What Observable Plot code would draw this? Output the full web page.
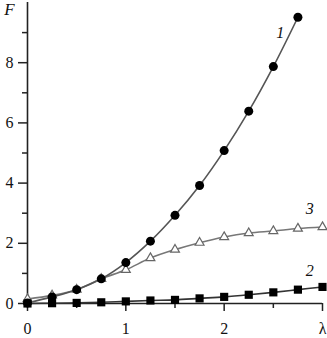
<!DOCTYPE html>
<html>
<head>
<meta charset="utf-8">
<script src="https://cdn.jsdelivr.net/npm/d3@7"></script>
<script src="https://cdn.jsdelivr.net/npm/@observablehq/plot@0.6"></script>
<style>
  html, body { margin: 0; padding: 0; background: #fff; }
  svg text { font-family: 'Liberation Serif', 'Times New Roman', serif; }
</style>
</head>
<body>
<div id="chart"></div>
<script>
const xs = [0, 0.25, 0.5, 0.75, 1, 1.25, 1.5, 1.75, 2, 2.25, 2.5, 2.75, 3];
const curve1 = [0.02, 0.22, 0.46, 0.82, 1.36, 2.07, 2.93, 3.92, 5.08, 6.39, 7.87, 9.51];
const curve2 = [0.0, 0.01, 0.02, 0.04, 0.07, 0.10, 0.12, 0.17, 0.22, 0.29, 0.37, 0.46, 0.55];
const curve3 = [0.15, 0.27, 0.46, 0.82, 1.12, 1.51, 1.79, 2.02, 2.21, 2.34, 2.41, 2.49, 2.54];

const xMajor = [0, 1, 2, 3];
const xMajorLabels = ["0", "1", "2", "λ"];
const xMinor = [0.5, 1.5, 2.5];
const yMajor = [0, 2, 4, 6, 8];
const yMinor = [1, 3, 5, 7, 9];

const curveLabels = ["1", "2", "3"];
const curveLabelX = [2.57, 2.87, 2.87];
const curveLabelY = [9.0, 1.1, 3.16];
const yTitle = "F";

const d1 = curve1.map((v, i) => ({x: xs[i], y: v}));
const d2 = curve2.map((v, i) => ({x: xs[i], y: v}));
const d3_ = curve3.map((v, i) => ({x: xs[i], y: v}));
const labels = curveLabels.map((t, i) => ({t, x: curveLabelX[i], y: curveLabelY[i]}));
const serif = "'Liberation Serif', 'Times New Roman', serif";

const chart = Plot.plot({
  width: 327,
  height: 338,
  marginLeft: 27,
  marginRight: 5,
  marginTop: 2,
  marginBottom: 35,
  style: {fontFamily: serif, fontSize: "16px", color: "#111", background: "#fff"},
  x: {domain: [0, 3], axis: null},
  y: {domain: [0, 10], axis: null},
  marks: [
    Plot.axisY({ticks: yMajor, tickSize: 9, tickPadding: 5, tickFormat: d => String(d), label: null, stroke: "#222", strokeWidth: 1.5, fontSize: 16, fontFamily: serif}),
    Plot.axisY({ticks: yMinor, tickSize: 5, tickFormat: () => "", label: null, stroke: "#222", strokeWidth: 1.5}),
    Plot.axisX({ticks: xMajor, tickSize: 8, tickPadding: 11, tickFormat: (d) => xMajorLabels[xMajor.indexOf(d)], label: null, stroke: "#222", strokeWidth: 1.5, fontSize: 16, fontFamily: serif}),
    Plot.axisX({ticks: xMinor, tickSize: 5, tickFormat: () => "", label: null, stroke: "#222", strokeWidth: 1.5}),
    Plot.ruleX([0], {stroke: "#222", strokeWidth: 1.6}),
    Plot.ruleY([0], {stroke: "#222", strokeWidth: 1.6}),
    Plot.line(d3_, {x: "x", y: "y", stroke: "#777", strokeWidth: 1.6, curve: "catmull-rom"}),
    Plot.line(d2, {x: "x", y: "y", stroke: "#333", strokeWidth: 1.6, curve: "catmull-rom"}),
    Plot.line(d1, {x: "x", y: "y", stroke: "#555", strokeWidth: 1.6, curve: "catmull-rom"}),
    Plot.dot(d3_, {x: "x", y: "y", symbol: "triangle", r: 3.3, fill: "#fff", stroke: "#666", strokeWidth: 1.2}),
    Plot.dot(d2, {x: "x", y: "y", symbol: "square", r: 4.6, fill: "#000", stroke: "none"}),
    Plot.dot(d1, {x: "x", y: "y", symbol: "circle", r: 4.5, fill: "#000", stroke: "none"}),
    Plot.text(labels, {x: "x", y: "y", text: "t", fontStyle: "italic", fontSize: 16, fontFamily: serif, fill: "#111"}),
    Plot.text([yTitle], {x: 0, y: 9.75, text: d => d, dx: -18, fontStyle: "italic", fontSize: 17, fontFamily: serif, fill: "#111"})
  ]
});
document.getElementById("chart").appendChild(chart);
</script>
</body>
</html>
